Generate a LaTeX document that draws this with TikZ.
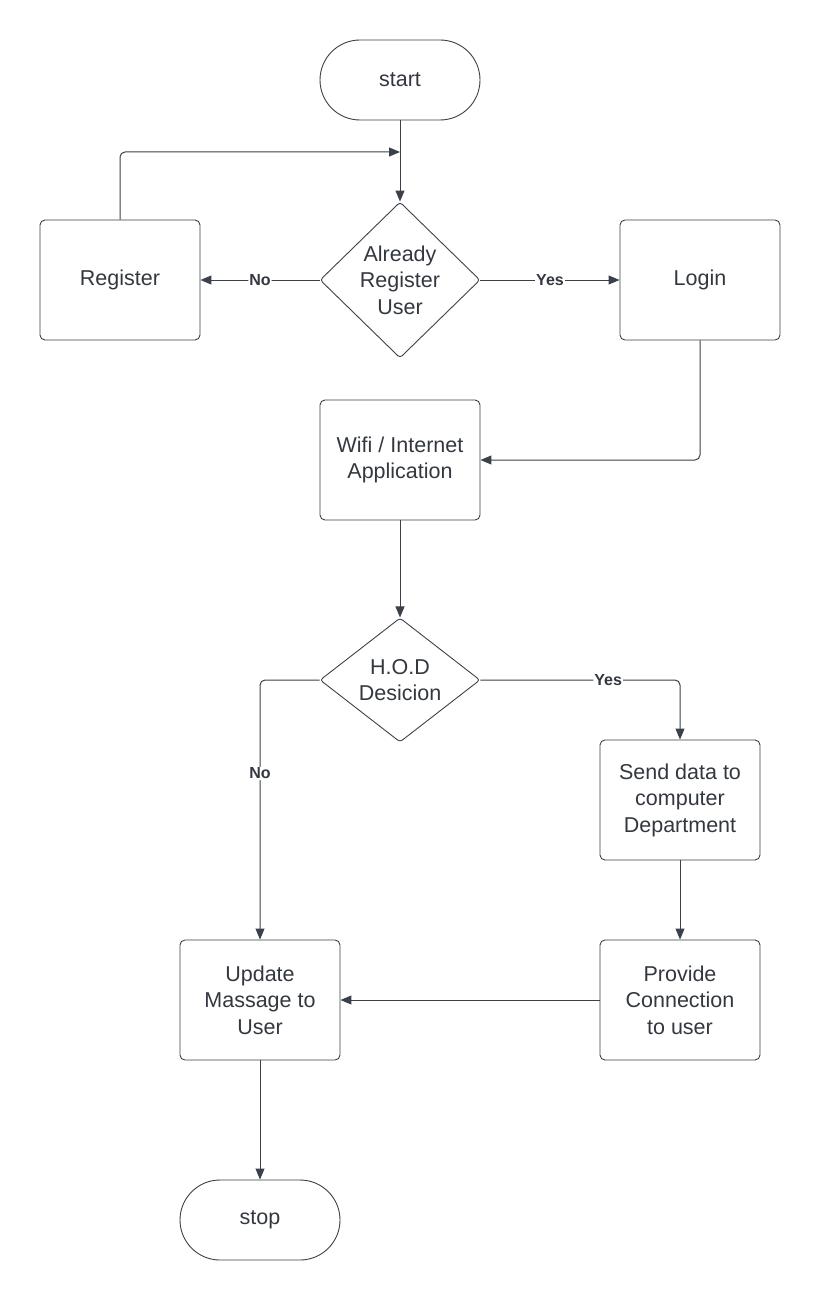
\documentclass[tikz,border=0pt]{standalone}
\usepackage{fontspec}
\setmainfont{Liberation Sans}
\usetikzlibrary{calc}
\usetikzlibrary{positioning}
\usetikzlibrary{shapes.geometric}
\usetikzlibrary{arrows.meta}

\definecolor{linegray}{HTML}{3A414A}
\definecolor{textgray}{HTML}{333840}

\begin{document}
\begin{tikzpicture}[x=1pt, y=-1pt,
    box/.style={rectangle, draw=linegray, line width=0.9pt, rounded corners=5pt, minimum width=160pt, minimum height=120pt, align=center, text=textgray, font=\fontsize{21.5}{26.5}\selectfont},
    term/.style={rectangle, draw=linegray, line width=0.9pt, rounded corners=40pt, minimum width=160pt, minimum height=80pt, text=textgray, font=\fontsize{21.5}{26.5}\selectfont},
    decide/.style={diamond, draw=linegray, line width=0.9pt, rounded corners=3pt, inner sep=0pt, align=center, text=textgray, font=\fontsize{21.5}{26.5}\selectfont},
    flow/.style={draw=linegray, line width=1pt, rounded corners=5pt, -{Triangle[length=11pt, width=9pt]}},
    lbl/.style={fill=white, inner sep=1pt, text=textgray, font=\fontsize{16}{18}\selectfont\bfseries}]
    \useasboundingbox (0, 0) rectangle (820, 1300);

    % nodes
    \node[term] (start) at (400, 80) {start};
    \node[decide, minimum width=160pt, minimum height=156pt] (already) at (400, 280) {Already\\Register\\User};
    \node[box] (register) at (120, 280) {Register};
    \node[box] (login) at (700, 280) {Login};
    \node[box] (wifi) at (400, 460) {Wifi / Internet\\Application};
    \node[decide, minimum width=160pt, minimum height=116pt] (hod) at (400, 680) {H.O.D\\Desicion};
    \node[box] (send) at (680, 800) {Send data to\\computer\\Department};
    \node[box] (provide) at (680, 1000) {Provide\\Connection\\to user};
    \node[box] (update) at (260, 1000) {Update\\Massage to\\User};
    \node[term] (stop) at (260, 1220) {stop};
    \coordinate (merge) at (400, 152);

    % connectors
    \draw[flow] (start) -- (already);
    \draw[flow] (register.north) |- (merge);
    \draw[flow] (already) -- node[lbl, pos=0.5] {No} (register);
    \draw[flow] (already) -- node[lbl, pos=0.5] {Yes} (login);
    \draw[flow] (login.south) |- (wifi.east);
    \draw[flow] (wifi) -- (hod);
    \draw[flow] (hod.west) -| node[lbl, pos=0.68] {No} (update.north);
    \draw[flow] (hod.east) -| node[lbl, pos=0.32] {Yes} (send.north);
    \draw[flow] (send) -- (provide);
    \draw[flow] (provide) -- (update);
    \draw[flow] (update) -- (stop);
\end{tikzpicture}
\end{document}
